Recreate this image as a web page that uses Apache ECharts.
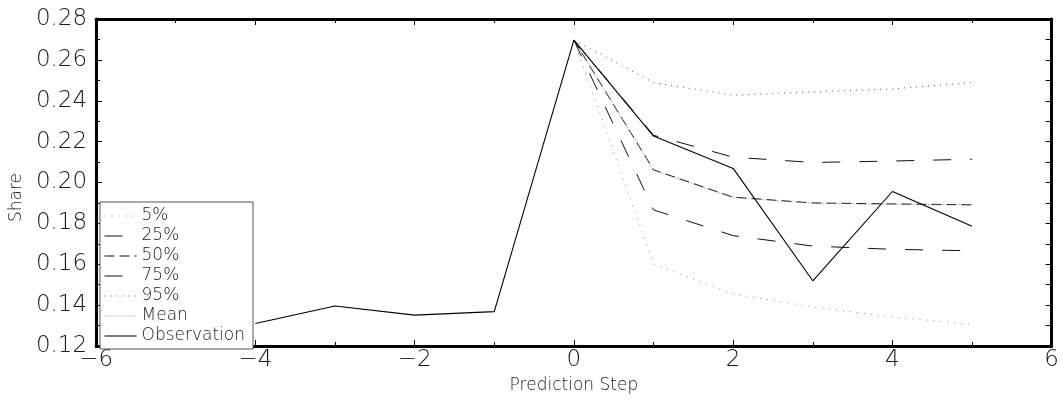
<!DOCTYPE html>
<html>
<head>
<meta charset="utf-8">
<script src="https://cdn.jsdelivr.net/npm/echarts@6/dist/echarts.min.js"></script>
<style>
html,body{margin:0;padding:0;background:#fff;}
#chart{width:1062px;height:405px;}
</style>
</head>
<body>
<div id="chart"></div>
<script>
// ---- data ----
const obsSteps = [-4, -3, -2, -1, 0, 1, 2, 3, 4, 5];
const observation = [0.131, 0.1396, 0.1351, 0.1368, 0.2697, 0.2227, 0.2069, 0.1519, 0.1956, 0.1786];

const fcSteps = [0, 1, 2, 3, 4, 5];
const q5   = [0.2697, 0.1601, 0.1454, 0.1391, 0.1342, 0.1306];
const q25  = [0.2697, 0.1866, 0.1740, 0.1689, 0.1673, 0.1666];
const q50  = [0.2697, 0.2062, 0.1928, 0.1900, 0.1895, 0.1891];
const q75  = [0.2697, 0.2231, 0.2124, 0.2098, 0.2105, 0.2114];
const q95  = [0.2697, 0.2489, 0.2427, 0.2443, 0.2458, 0.2489];
const mean = [0.2697, 0.2060, 0.1926, 0.1898, 0.1893, 0.1890];

const xTicks = { min: -6, max: 6, interval: 2 };
const yTicks = { min: 0.12, max: 0.28, interval: 0.02 };

const seriesNames = ['5%', '25%', '50%', '75%', '95%', 'Mean', 'Observation'];

// ---- chart ----
const FONT = '"DejaVu Sans", sans-serif';
const TXT = '#1a1a1a';
const pair = (xs, ys) => xs.map((x, i) => [x, ys[i]]);

function mkSeries(name, xs, ys, color, type, width) {
  return {
    name, type: 'line', data: pair(xs, ys), symbol: 'none',
    xAxisIndex: 0, yAxisIndex: 0, silent: true,
    lineStyle: { color, type, width },
    itemStyle: { color },
    z: 2
  };
}

const axisLine = { show: true, onZero: false, lineStyle: { color: '#000', width: 3 } };
const tick = { show: true, inside: true, length: 6, lineStyle: { color: '#000' } };
const minor = { show: true, splitNumber: 2, length: 4, lineStyle: { color: '#000' } };

const chart = echarts.init(document.getElementById('chart'), null, { renderer: 'canvas' });
chart.setOption({
  animation: false,
  backgroundColor: '#fff',
  textStyle: { fontFamily: FONT },
  grid: { left: 96, right: 9, top: 19, bottom: 59 },
  legend: {
    orient: 'vertical',
    left: 100, top: 202,
    data: seriesNames,
    backgroundColor: '#fff',
    borderColor: '#555', borderWidth: 1,
    padding: [5, 8, 4, 4],
    itemGap: 2,
    itemWidth: 32, itemHeight: 14,
    selectedMode: false,
    itemStyle: { opacity: 0 },
    lineStyle: { width: 1 },
    textStyle: { fontFamily: FONT, fontSize: 17, fontWeight: 200, color: TXT, lineHeight: 18 },
    z: 10
  },
  xAxis: [
    {
      type: 'value', position: 'bottom', ...xTicks,
      name: 'Prediction Step', nameLocation: 'middle', nameGap: 27,
      nameTextStyle: { fontFamily: FONT, fontSize: 17, fontWeight: 200, color: TXT },
      axisLine, splitLine: { show: false }, axisTick: tick, minorTick: minor,
      axisLabel: { fontFamily: FONT, fontSize: 23, fontWeight: 200, color: TXT, margin: 3,
                   formatter: v => (v < 0 ? '\u2212' + Math.abs(v) : String(v)) }
    },
    {
      type: 'value', position: 'top', ...xTicks,
      axisLine, splitLine: { show: false }, axisTick: tick, minorTick: minor,
      axisLabel: { show: false }
    }
  ],
  yAxis: [
    {
      type: 'value', position: 'left', ...yTicks,
      name: 'Share', nameLocation: 'middle', nameGap: 66,
      nameTextStyle: { fontFamily: FONT, fontSize: 17, fontWeight: 200, color: TXT, padding: [0, 0, 0, -30] },
      axisLine, splitLine: { show: false }, axisTick: tick, minorTick: minor,
      axisLabel: { fontFamily: FONT, fontSize: 23, fontWeight: 200, color: TXT, margin: 9,
                   formatter: v => v.toFixed(2) }
    },
    {
      type: 'value', position: 'right', ...yTicks,
      axisLine, splitLine: { show: false }, axisTick: tick,
      minorTick: { show: true, splitNumber: 2, length: 6, lineStyle: { color: '#000' } },
      axisLabel: { show: false }
    }
  ],
  series: [
    mkSeries('5%', fcSteps, q5, '#888', [1, 6], 1),
    mkSeries('25%', fcSteps, q25, '#111', [18, 19], 1),
    mkSeries('50%', fcSteps, q50, '#111', [10, 5], 1),
    mkSeries('75%', fcSteps, q75, '#111', [18, 19], 1),
    mkSeries('95%', fcSteps, q95, '#555', [1, 5], 1),
    mkSeries('Mean', fcSteps, mean, '#888', [1, 2], 1),
    mkSeries('Observation', obsSteps, observation, '#000', 'solid', 1.1)
  ]
});
</script>
</body>
</html>
